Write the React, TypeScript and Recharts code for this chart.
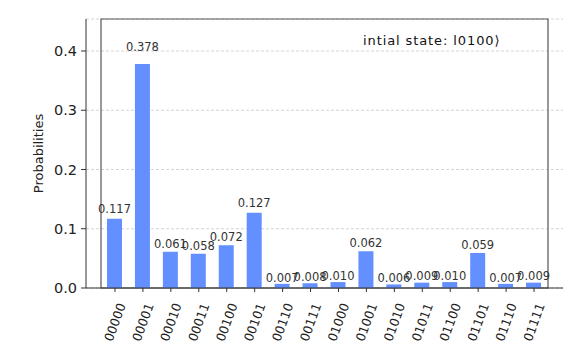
import { BarChart, Bar, XAxis, YAxis, CartesianGrid, LabelList, Label, ReferenceArea } from 'recharts';

const states = [
  '00000', '00001', '00010', '00011', '00100', '00101', '00110', '00111',
  '01000', '01001', '01010', '01011', '01100', '01101', '01110', '01111',
];
const probabilities = [
  0.117, 0.378, 0.061, 0.058, 0.072, 0.127, 0.007, 0.008,
  0.010, 0.062, 0.006, 0.009, 0.010, 0.059, 0.007, 0.009,
];
const yTicks = [0, 0.1, 0.2, 0.3, 0.4];
const yMax = 0.454;

const data = states.map((s, i) => ({ state: s, p: probabilities[i] }));

const font = 'DejaVu Sans, sans-serif';

const StateTick = ({ x, y, payload }: any) => (
  <g transform={`translate(${x + 11},${y + 11})`}>
    <text x={0} y={0} transform="rotate(-70)" textAnchor="end" fontSize={12.5} fontFamily={font} fill="#222">
      {payload.value}
    </text>
  </g>
);

// label sits at 1.05 x bar height, like the original plot
const ValueLabel = ({ x, y, width, height, value }: any) => (
  <text
    x={x + width / 2}
    y={y - 0.05 * height - 2}
    textAnchor="middle"
    fontSize={11.5}
    fontFamily={font}
    fill="#333"
  >
    {Number(value).toFixed(3)}
  </text>
);

export default function App() {
  return (
    <div style={{ position: 'absolute', left: 0, top: 0, width: 588, height: 349, background: '#fff' }}>
      <BarChart
        width={588}
        height={349}
        data={data}
        margin={{ top: 19, right: 25, left: 0, bottom: 0 }}
      >
        <CartesianGrid vertical={false} stroke="#d4d4d4" strokeDasharray="3 2" />
        <ReferenceArea y1={0} y2={yMax} fill="none" stroke="#555" strokeWidth={1.2} />
        <XAxis
          dataKey="state"
          height={61}
          interval={0}
          padding={{ left: 15, right: 15 }}
          tick={<StateTick />}
          tickSize={4}
          stroke="#333"
        />
        <YAxis
          width={86}
          domain={[0, yMax]}
          ticks={yTicks}
          tickFormatter={(v: number) => v.toFixed(1)}
          tickSize={5}
          tickMargin={4}
          tick={{ fontSize: 14.5, fontFamily: font, fill: '#222' }}
          stroke="#333"
          allowDataOverflow
        >
          <Label
            content={({ viewBox }: any) => (
              <text
                x={38}
                y={viewBox.y + viewBox.height / 2}
                transform={`rotate(-90, 38, ${viewBox.y + viewBox.height / 2})`}
                textAnchor="middle"
                dominantBaseline="central"
                fontSize={13}
                fontFamily={font}
                fill="#222"
              >
                Probabilities
              </text>
            )}
          />
        </YAxis>
        <Bar dataKey="p" fill="#648fff" barSize={15} isAnimationActive={false}>
          <LabelList dataKey="p" content={<ValueLabel />} />
        </Bar>
      </BarChart>
      <div
        style={{
          position: 'absolute',
          left: 363,
          top: 33,
          fontFamily: font,
          fontSize: 13,
          letterSpacing: 0.9,
          color: '#111',
          whiteSpace: 'nowrap',
        }}
      >
        intial state: l0100⟩
      </div>
    </div>
  );
}
